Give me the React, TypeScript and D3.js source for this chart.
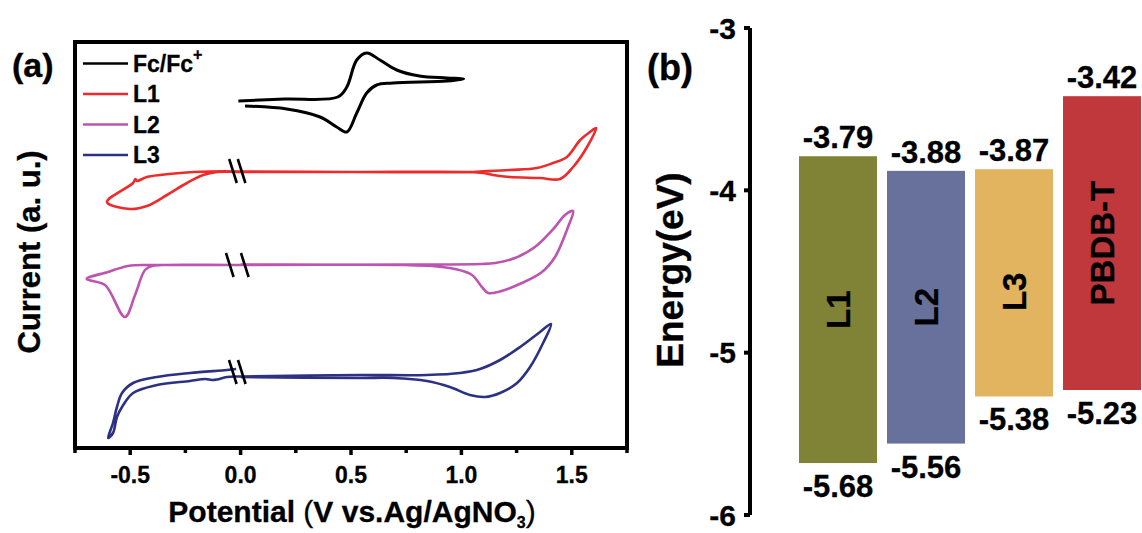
import { useMemo } from 'react';
import * as d3 from 'd3';

// (a) cyclic voltammograms, potential (V) vs current (a.u., offset per trace)
const fcCurve: [number, number][] = [
  [-0.01, 35.1], [0.2, 35.3], [0.44, 35.5], [0.481, 36.5], [0.526, 39.2],
  [0.571, 39.9], [0.631, 39.2], [0.707, 38.2], [0.81, 37.6], [0.935, 37.4],
  [1.01, 37.3], [0.935, 37.1], [0.69, 36.9], [0.616, 36.7], [0.571, 35.9],
  [0.526, 33.9], [0.481, 32.0], [0.435, 32.5], [0.36, 33.5], [0.209, 34.3],
  [0.02, 34.6],
];

const l1Curve: [number, number][] = [
  [0.0, 28.05], [-0.139, 28.05], [-0.274, 27.9], [-0.424, 27.5], [-0.47, 27.1],
  [-0.476, 27.3], [-0.487, 26.9], [-0.605, 25.0], [-0.501, 24.3], [-0.424, 24.6],
  [-0.333, 25.7], [-0.243, 26.9], [-0.17, 27.7], [-0.107, 28.0], [0.0, 28.0],
  [0.5, 28.0], [1.039, 28.0], [1.084, 28.05], [1.22, 28.2], [1.342, 28.4],
  [1.415, 28.9], [1.478, 29.5], [1.538, 31.2], [1.582, 32.0], [1.61, 32.4],
  [1.569, 30.5], [1.506, 28.5], [1.447, 27.3], [1.356, 27.4], [1.22, 27.5],
  [1.143, 27.7], [1.098, 27.9], [1.039, 28.0], [0.5, 28.0], [0.0, 28.05],
];

const l2Curve: [number, number][] = [
  [0.0, 18.7], [-0.356, 18.7], [-0.419, 18.7], [-0.51, 18.6], [-0.601, 18.0],
  [-0.697, 17.3], [-0.614, 16.7], [-0.524, 13.5], [-0.478, 15.7], [-0.433, 18.2],
  [-0.401, 18.6], [-0.356, 18.7], [0.0, 18.7], [0.745, 18.75], [1.093, 18.8],
  [1.153, 18.9], [1.243, 19.4], [1.333, 20.5], [1.424, 22.5], [1.469, 23.7],
  [1.506, 24.1], [1.483, 22.5], [1.424, 19.5], [1.365, 18.0], [1.274, 16.9],
  [1.166, 16.0], [1.121, 15.9], [1.093, 16.5], [1.048, 17.7], [0.971, 18.3],
  [0.867, 18.6], [0.745, 18.7], [0.0, 18.75],
];

const l3Curve: [number, number][] = [
  [-0.02, 8.3], [-0.062, 8.2], [-0.229, 7.9], [-0.379, 7.5], [-0.487, 6.9],
  [-0.537, 5.9], [-0.56, 4.5], [-0.578, 2.9], [-0.6, 1.4], [-0.578, 1.9],
  [-0.56, 3.5], [-0.537, 4.5], [-0.487, 5.9], [-0.379, 6.7], [-0.229, 7.1],
  [-0.16, 7.3], [-0.13, 7.2], [-0.107, 7.25], [-0.062, 7.5], [0.0, 7.55],
  [0.541, 7.7], [0.844, 7.7], [0.994, 7.9], [1.084, 8.3], [1.175, 9.2],
  [1.266, 10.5], [1.356, 12.0], [1.406, 12.8], [1.37, 10.9], [1.311, 8.5],
  [1.252, 6.9], [1.175, 5.9], [1.107, 5.5], [1.039, 5.7], [0.948, 6.5],
  [0.844, 7.1], [0.69, 7.4], [0.541, 7.4], [0.0, 7.5],
];

const cvNames = ['Fc/Fc', 'L1', 'L2', 'L3'];
const cvColors = ['#000000', '#ee2b2b', '#bd55b0', '#2d3182'];
const breakPotential = -0.015;
const breakLevels = [28.1, 18.7, 8.0];
const breakGaps = [4.3, 7.5, 4.5];

// (b) energy levels
const materials = ['L1', 'L2', 'L3', 'PBDB-T'];
const lumo = [-3.79, -3.88, -3.87, -3.42];
const homo = [-5.68, -5.56, -5.38, -5.23];
const homoBar = [-5.68, -5.56, -5.27, -5.23];
const lumoLabels = ['-3.79', '-3.88', '-3.87', '-3.42'];
const homoLabels = ['-5.68', '-5.56', '-5.38', '-5.23'];
const barColors = ['#808235', '#68719c', '#e3b460', '#c0383b'];
const energyTicks = [-3, -4, -5, -6];

const font = '"Liberation Sans", Arial, Helvetica, sans-serif';

export default function App() {
  const x = useMemo(() => d3.scaleLinear().domain([-0.75, 1.75]).range([75, 627]), []);
  const y = useMemo(() => d3.scaleLinear().domain([0.4, 40.9]).range([448, 43]), []);
  const e = useMemo(() => d3.scaleLinear().domain([-3, -6]).range([28, 515]), []);
  const band = useMemo(
    () => d3.scaleBand<string>().domain(materials).range([799, 1141]).paddingInner(0.114),
    [],
  );

  const line = d3
    .line<[number, number]>()
    .x((d) => x(d[0]))
    .y((d) => y(d[1]))
    .curve(d3.curveCatmullRom.alpha(0.5));

  const curves = [fcCurve, l1Curve, l2Curve, l3Curve];
  const xTicks = d3.range(-0.75, 1.76, 0.25);
  const majorTicks = [-0.5, 0, 0.5, 1, 1.5];

  return (
    <svg
      width={1142}
      height={533}
      style={{ position: 'absolute', left: 0, top: 0, background: '#fff' }}
      fontFamily={font}
      fontWeight="bold"
    >
      <g stroke="#000" strokeWidth={0.35}>
        <text x={12} y={77} fontSize={34}>(a)</text>
        <text x={647} y={80} fontSize={36}>(b)</text>
      </g>

      {/* panel (a) */}
      {curves.map((c, i) => (
        <path
          key={cvNames[i]}
          d={line(c) ?? ''}
          fill="none"
          stroke={cvColors[i]}
          strokeWidth={i === 0 ? 3 : 2.6}
          strokeLinejoin="round"
        />
      ))}
      {breakLevels.map((lv, i) => {
        const cx = x(breakPotential);
        const cy = y(lv);
        return (
          <g key={i} stroke="#000" strokeWidth={2.6}>
            {[-1, 1].map((s) => (
              <line
                key={s}
                x1={cx + s * breakGaps[i] - 3.8}
                y1={cy - 12}
                x2={cx + s * breakGaps[i] + 3.8}
                y2={cy + 12}
              />
            ))}
          </g>
        );
      })}
      <rect x={75} y={42} width={552} height={406} fill="none" stroke="#000" strokeWidth={4} />
      {xTicks.map((t) => {
        const major = majorTicks.some((m) => Math.abs(m - t) < 1e-6);
        return (
          <line
            key={t}
            x1={x(t)}
            x2={x(t)}
            y1={448}
            y2={448 + (major ? 7 : 5)}
            stroke="#000"
            strokeWidth={3.5}
          />
        );
      })}
      <g stroke="#000" strokeWidth={0.3}>
        {majorTicks.map((t) => (
          <text key={t} x={x(t)} y={483} fontSize={23} textAnchor="middle">
            {t.toFixed(1)}
          </text>
        ))}
        <text x={352} y={522} fontSize={30} textAnchor="middle">
          Potential <tspan fontWeight="normal">(</tspan>V vs.Ag/AgNO
          <tspan fontSize={16} dy={6}>3</tspan>
          <tspan dy={-6} fontWeight="normal">)</tspan>
        </text>
        <text transform="translate(40,252) rotate(-90)" fontSize={31} textAnchor="middle">
          Current (a. u.)
        </text>
      </g>
      {cvNames.map((n, i) => {
        const ly = 63.5 + i * 30.5;
        return (
          <g key={n}>
            <line x1={83} x2={128} y1={ly} y2={ly} stroke={cvColors[i]} strokeWidth={2.6} />
            <text x={133} y={ly} dy="0.36em" fontSize={23} stroke="#000" strokeWidth={0.3}>
              {n}
              {i === 0 && (
                <tspan fontSize={16} dy={-12}>+</tspan>
              )}
            </text>
          </g>
        );
      })}

      {/* panel (b) */}
      <text
        transform="translate(683,270) rotate(-90)"
        fontSize={37}
        textAnchor="middle"
        stroke="#000"
        strokeWidth={0.35}
      >
        Energy(eV)
      </text>
      <line x1={750} x2={750} y1={e(-3)} y2={e(-6)} stroke="#000" strokeWidth={4} />
      {energyTicks.map((t) => (
        <g key={t}>
          <line x1={744} x2={750} y1={e(t)} y2={e(t)} stroke="#000" strokeWidth={4} />
          <text
            x={736}
            y={e(t)}
            dy="0.36em"
            fontSize={30}
            textAnchor="end"
            stroke="#000"
            strokeWidth={0.3}
          >
            {t}
          </text>
        </g>
      ))}
      {materials.map((m, i) => {
        const bx = band(m)!;
        const bw = band.bandwidth();
        const cx = bx + bw / 2;
        const top = e(lumo[i]);
        const bottom = e(homoBar[i]);
        const mid = (e(lumo[i]) + e(homo[i])) / 2;
        return (
          <g key={m}>
            <rect x={bx} y={top} width={bw} height={bottom - top} fill={barColors[i]} />
            <g stroke="#000" strokeWidth={0.3}>
              <text x={cx} y={top - 8} fontSize={31} textAnchor="middle">
                {lumoLabels[i]}
              </text>
              <text x={cx} y={bottom + 34} fontSize={31} textAnchor="middle">
                {homoLabels[i]}
              </text>
              <text
                transform={`translate(${cx},${mid}) rotate(-90)`}
                dy="0.36em"
                fontSize={33}
                textAnchor="middle"
              >
                {m}
              </text>
            </g>
          </g>
        );
      })}
    </svg>
  );
}
